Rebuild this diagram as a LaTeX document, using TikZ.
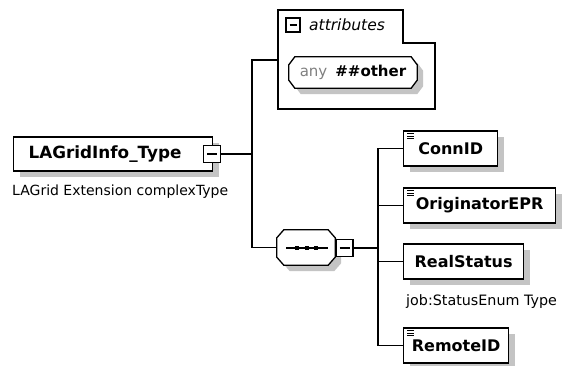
\documentclass[tikz,border=0pt]{standalone}
\usepackage{fontspec}
\setmainfont{DejaVu Sans}
\usetikzlibrary{positioning,shadows}

\tikzset{
    shade/.style={general shadow={fill=black!23, shadow xshift=6pt, shadow yshift=-6pt}},
    elem/.style={draw, fill=white, line width=1.3pt, shade, minimum height=35pt, anchor=west,
        font=\bfseries\fontsize{16}{18}\selectfont},
    minus/.style={draw, fill=white, line width=1.2pt, minimum size=#1, inner sep=0pt,
        path picture={\draw[line width=1.1pt] ([xshift=3.5pt]path picture bounding box.west) -- ([xshift=-3.5pt]path picture bounding box.east);}},
    note/.style={anchor=west, inner sep=0pt, font=\fontsize{14}{15}\selectfont},
    wire/.style={line width=1.3pt},
    cut/.style={line width=1.3pt, fill=white, shade}
}

\begin{document}
\begin{tikzpicture}[x=1pt, y=-1pt]
    \useasboundingbox[fill=white] (0,0) rectangle (562,366);

    % Complex type
    \node[elem, minimum width=199pt, minimum height=34pt, inner xsep=15pt, text width=169pt, align=left,
        font=\bfseries\fontsize{16.8}{18}\selectfont] (main) at (13,154) {LAGridInfo\_Type};
    \node[minus=17pt] (mainx) at (212,154) {};
    \node[note] (maindesc) at (12,192) {LAGrid Extension complexType};

    % Attributes group
    \draw[line width=1.3pt] (278,10) -- (403,10) -- (403,43) -- (435,43) -- (435,109) -- (278,109) -- cycle;
    \coordinate (attrin) at (278,60);
    \node[minus=14pt] (attrx) at (293,25) {};
    \node[anchor=west, inner sep=0pt, font=\itshape\fontsize{15.5}{17}\selectfont] (attrlbl) at (309,25) {attributes};
    \node[minimum width=128pt, minimum height=31pt, inner sep=0pt] (anyattr) at (353,72.5) {};
    \draw[cut] ([xshift=6pt]anyattr.north west) -- ([xshift=-6pt]anyattr.north east)
        -- ([yshift=-8pt]anyattr.north east) -- ([yshift=8pt]anyattr.south east)
        -- ([xshift=-6pt]anyattr.south east) -- ([xshift=6pt]anyattr.south west)
        -- ([yshift=8pt]anyattr.south west) -- ([yshift=-8pt]anyattr.north west) -- cycle;
    \node[font=\fontsize{15}{16}\selectfont] (anytext) at (anyattr) {\textcolor{gray}{any}\hspace{8pt}\textbf{\#\#other}};

    % Sequence
    \node[minimum width=58pt, minimum height=35pt, inner sep=0pt] (seq) at (306,247.5) {};
    \draw[cut] ([xshift=7pt]seq.north west) -- ([xshift=-7pt]seq.north east)
        -- ([yshift=-8pt]seq.north east) -- ([yshift=8pt]seq.south east)
        -- ([xshift=-7pt]seq.south east) -- ([xshift=7pt]seq.south west)
        -- ([yshift=8pt]seq.south west) -- ([yshift=-8pt]seq.north west) -- cycle;
    \draw[line width=1.2pt] (286,248) -- (328,248);
    \foreach \x in {297,307,316} {
        \fill (\x-2.4,245.6) rectangle (\x+2.4,250.4);
    }
    \node[minus=17pt] (seqx) at (344.5,248) {};

    % Child elements
    \node[elem, minimum width=94pt] (connid) at (403,148.5) {ConnID};
    \node[elem, minimum width=152pt] (origepr) at (403,205.5) {OriginatorEPR};
    \node[elem, minimum width=120pt] (realstat) at (403,261.5) {RealStatus};
    \node[note, font=\fontsize{14.3}{15}\selectfont] (realdesc) at (406,302) {job:StatusEnum Type};
    \node[elem, minimum width=105pt] (remoteid) at (403,345.5) {RemoteID};

    % little list icons
    \foreach \n in {connid,origepr,remoteid} {
        \foreach \k in {3.5,6,8.5} {
            \draw[line width=1pt] ([xshift=4pt,yshift=-\k pt]\n.north west) -- ++(7,0);
        }
    }

    % Connectors
    \coordinate (j1) at (252,154);
    \coordinate (j2) at (378,248);
    \draw[wire] (mainx) -- (j1);
    \draw[wire] (j1) |- (attrin);
    \draw[wire] (j1) |- (seq.west);
    \draw[wire] (seqx) -- (j2);
    \draw[wire] (j2 |- connid.west) -- (j2 |- remoteid.west);
    \foreach \n in {connid,origepr,realstat,remoteid} {
        \draw[wire] (j2 |- \n.west) -- (\n.west);
    }
\end{tikzpicture}
\end{document}
